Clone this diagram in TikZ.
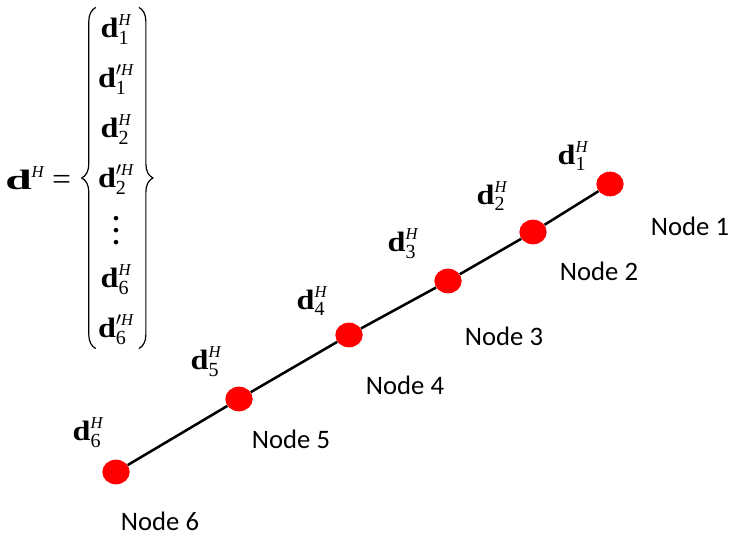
\documentclass[tikz,border=0pt]{standalone}
\usepackage{amsmath,amssymb}
\usepackage{graphicx}
\usepackage{fontspec}
\setmainfont{Liberation Serif}
\newfontfamily\labelfont{Carlito}
\usepackage{tikz}
\usetikzlibrary{calc,positioning,shapes.geometric,decorations.pathreplacing}
\definecolor{vertexred}{RGB}{255,0,0}
% vector symbols, drawn a little wide as in the original
\newcommand{\bd}{\text{\scalebox{1.15}[1]{\bfseries d}}}
\newcommand{\bdL}{\text{\scalebox{1.7}[1]{\bfseries d}}}
\newcommand{\supH}{\text{\fontsize{12.5}{13}\selectfont\itshape H}}
\newcommand{\dsub}[1]{\text{\fontsize{15}{16}\selectfont #1}}
\newcommand{\dvec}[1]{\bd^{\supH}_{\dsub{#1}}}
\newcommand{\dpvec}[1]{\bd'^{\supH}_{\dsub{#1}}}
\newcommand{\wideq}{\mathrel{\text{\scalebox{1.2}[1.1]{=}}}}
\newcommand{\tallvdots}{\vcenter{\baselineskip9pt\lineskiplimit0pt
  \hbox{\bfseries .}\hbox{\bfseries .}\hbox{\bfseries .}}}
\tikzset{
  hvertex/.style={ellipse, fill=vertexred, draw=none, minimum width=20.5pt,
                  minimum height=18.5pt, inner sep=0pt},
  hline/.style  ={line width=1.9pt, black},
  hlabel/.style ={font=\labelfont\fontsize{20}{24}\selectfont, inner sep=0pt},
  dlabel/.style ={font=\fontsize{21}{25}\selectfont, inner sep=0pt},
  hvec/.style   ={font=\fontsize{21}{25}\selectfont, inner sep=0pt},
  vbrace/.style ={decorate, decoration={brace, amplitude=10.5pt}, line width=0.9pt},
}

\begin{document}
\begin{tikzpicture}[x=0.75pt,y=-0.75pt]
  \useasboundingbox (0,0) rectangle (748,555);

  % --- the stacked vector -------------------------------------------------
  \node[hvec, anchor=west] (lhs) at (5,178) {$\bdL^{\supH}\wideq$};
  \node[hvec] (vec) at (116,178)
    {\renewcommand{\arraystretch}{1.5}%
     $\begin{array}{@{}c@{}}
        \dvec{1}\\
        \dpvec{1}\\
        \dvec{2}\\
        \dpvec{2}\\
        \tallvdots\\
        \dvec{6}\\
        \dpvec{6}
      \end{array}$};
  \draw[vbrace] ([xshift=-1.5pt,yshift=3.5pt]vec.south west)
             -- ([xshift=-1.5pt,yshift=-3.5pt]vec.north west);
  \draw[vbrace] ([xshift=3.5pt,yshift=-3.5pt]vec.north east)
             -- ([xshift=3.5pt,yshift=3.5pt]vec.south east);

  % --- the nodes on the line ----------------------------------------------
  \node[hvertex] (n1) at (610,184) {};
  \node[hvertex] (n2) at (533,232) {};
  \node[hvertex] (n3) at (448,281) {};
  \node[hvertex] (n4) at (349,335) {};
  \node[hvertex] (n5) at (239,399) {};
  \node[hvertex] (n6) at (116,472) {};

  \draw[hline] (n6) -- (n5) -- (n4) -- (n3) -- (n2) -- (n1);

  % --- node names ---------------------------------------------------------
  \node[hlabel] (l1) at (690,226) {Node 1};
  \node[hlabel] (l2) at (599,271) {Node 2};
  \node[hlabel] (l3) at (504,336) {Node 3};
  \node[hlabel] (l4) at (405,385) {Node 4};
  \node[hlabel] (l5) at (291,439) {Node 5};
  \node[hlabel] (l6) at (160,521) {Node 6};

  % --- the vectors at each node -------------------------------------------
  \node[dlabel] (d1) at (573,156) {$\dvec{1}$};
  \node[dlabel] (d2) at (492,196) {$\dvec{2}$};
  \node[dlabel] (d3) at (403,244) {$\dvec{3}$};
  \node[dlabel] (d4) at (312,301) {$\dvec{4}$};
  \node[dlabel] (d5) at (206,362) {$\dvec{5}$};
  \node[dlabel] (d6) at (88,433)  {$\dvec{6}$};
\end{tikzpicture}
\end{document}
